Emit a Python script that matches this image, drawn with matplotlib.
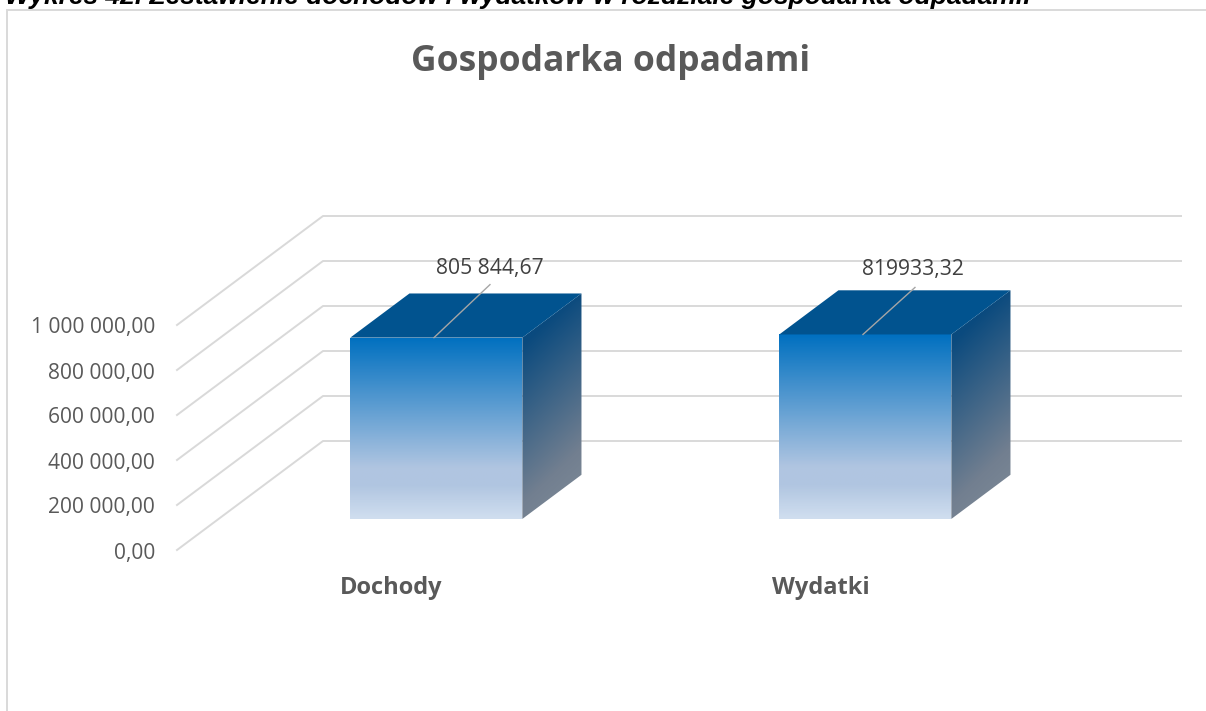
import numpy as np
import matplotlib
matplotlib.use("Agg")
import matplotlib.pyplot as plt
from matplotlib.colors import LinearSegmentedColormap
from matplotlib.patches import Polygon

caption = "Wykres 42. Zestawienie dochodów i wydatków w rozdziale gospodarka odpadami."
title = "Gospodarka odpadami"
categories = ["Dochody", "Wydatki"]
values = [805844.67, 819933.32]
value_labels = ["805 844,67", "819933,32"]
ticks = [0, 200000, 400000, 600000, 800000, 1000000]
tick_labels = ["0,00", "200 000,00", "400 000,00", "600 000,00", "800 000,00", "1 000 000,00"]

W, H = 1206, 711
FONT = "Open Sans"
GREY = "#595959"
GRID = "#d9d9d9"

# leader line end and label centre, relative to the bar's top edge
leader_off = [(56, -53), (52, -47)]
label_off = [(56, -69), (50, -65)]


# category / value / depth -> picture pixels
def proj(c, v, d=0.0):
    return (177 + 146 * d + (c + 0.5) * 429, 550 - v * 225 / 1000000 - 109 * d)


def grad(ax, pts, stops, direction):
    pts = np.array(pts)
    x0, y0 = pts.min(axis=0)
    x1, y1 = pts.max(axis=0)
    xx, yy = np.meshgrid(np.linspace(0, 1, 200), np.linspace(0, 1, 200))
    g = xx * direction[0] + yy * direction[1]
    g = (g - g.min()) / (g.max() - g.min())
    cmap = LinearSegmentedColormap.from_list("g", stops)
    im = ax.imshow(g, cmap=cmap, extent=(x0, x1, y1, y0), aspect="auto", zorder=3, vmin=0, vmax=1)
    im.set_clip_path(Polygon(pts, transform=ax.transData))


fig = plt.figure(figsize=(W / 100, H / 100), dpi=100)
ax = fig.add_axes([0, 0, 1, 1])

# chart frame
ax.plot([7, 7, W], [H, 10, 10], color=GRID, lw=1.4, solid_joinstyle="miter")

# walls
for t, lab in zip(ticks, tick_labels):
    a = proj(-0.5, t, 0)
    b = proj(-0.5, t, 1)
    c = proj(1.5, t, 1)
    ax.plot([a[0], b[0], c[0]], [a[1], b[1], c[1]], color=GRID, lw=1.4, zorder=1)
    ax.text(155, a[1] + 3, lab, ha="right", va="center", fontsize=15.1, color=GREY, family=FONT)

# bars
d0, d1 = 0.285, 0.69
for i, v in enumerate(values):
    l, r = i - 0.193, i + 0.208
    fbl, fbr = proj(l, 0, d0), proj(r, 0, d0)
    ftl, ftr = proj(l, v, d0), proj(r, v, d0)
    btl, btr = proj(l, v, d1), proj(r, v, d1)
    bbr = proj(r, 0, d1)
    grad(ax, [ftl, ftr, fbr, fbl],
         [(0, "#0070c0"), (0.72, "#b0c5e1"), (0.82, "#b1c6e1"), (1, "#d0deef")], (0, 1))
    grad(ax, [ftr, btr, bbr, fbr],
         [(0, "#0a4a7e"), (0.18, "#0a4a7e"), (0.75, "#727f90"), (1, "#808d99")], (0.25, 1))
    ax.add_patch(Polygon([ftl, ftr, btr, btl], facecolor="#01538f", edgecolor="none", zorder=3))

    # leader line and data label
    start = proj(i + 0.002, v, d0)
    ax.plot([start[0], start[0] + leader_off[i][0]], [start[1], start[1] + leader_off[i][1]],
            color="#a6a6a6", lw=1.0, zorder=4)
    ax.text(start[0] + label_off[i][0], start[1] + label_off[i][1], value_labels[i], ha="center", va="center",
            fontsize=15.2, color="#404040", family=FONT, zorder=5)
    ax.text(proj(i, 0)[0], 588, categories[i], ha="center", va="center", fontsize=17,
            fontweight="bold", color=GREY, family=FONT)

ax.text(611, 62, title, ha="center", va="center", fontsize=25.5, fontweight="bold", color=GREY, family=FONT)
ax.text(5, 4, caption, ha="left", va="baseline", fontsize=19, fontweight="bold", fontstyle="italic",
        color="black", family="Liberation Sans")

ax.set_xlim(0, W)
ax.set_ylim(H, 0)
ax.axis("off")
fig.savefig("out.png", dpi=100)
